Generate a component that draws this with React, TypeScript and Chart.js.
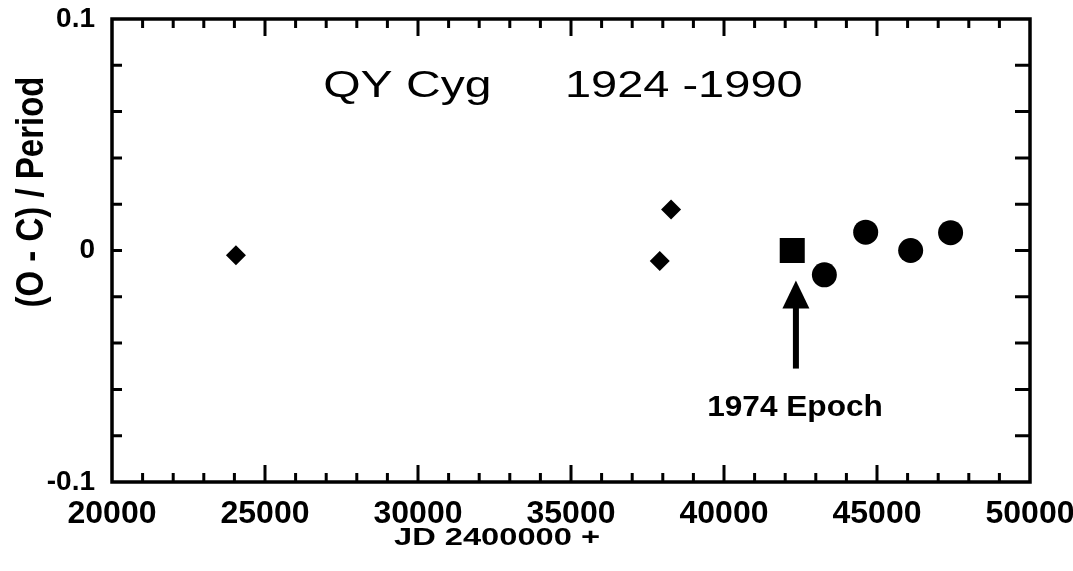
import React, { useEffect, useRef } from "react";
import { Chart, registerables } from "chart.js";

Chart.register(...registerables);

// ---- data ----
const diamondJD = [24050, 37900, 38270];
const diamondOC = [-0.002, -0.0045, 0.0177];
const squareJD = [42230];
const squareOC = [0];
const circleJD = [43280, 44630, 46100, 47405];
const circleOC = [-0.0105, 0.0079, 0, 0.0077];

const xMin = 20000;
const xMax = 50000;
const xMajorStep = 5000;
const xMinorStep = 1000;
const yMin = -0.1;
const yMax = 0.1;
const yStep = 0.02;
const yTickLabels = ["-0.1", "0", "0.1"];

const titleStar = "QY Cyg";
const titleYears = "1924 -1990";
const epochLabel = "1974 Epoch";
const xTitle = "JD 2400000 +";
const yTitle = "(O - C) / Period";

// annotation anchors (data coordinates)
const titleStarX = 26900;
const titleYearsX = 34800;
const titleBaselineY = 0.0663;
const epochX = 42350;
const epochTipY = -0.013;
const epochHeadY = -0.025;
const epochTailY = -0.051;
const epochTextX = 42320;
const epochTextBaselineY = -0.0715;

const FONT = "'Liberation Sans', Arial, Helvetica, sans-serif";

function fmtY(v: number): string {
  if (Math.abs(v) < 1e-9) return "0";
  return String(Math.round(v * 100) / 100);
}

function drawText(
  ctx: CanvasRenderingContext2D,
  text: string,
  x: number,
  y: number,
  font: string,
  sx: number,
  sy: number,
  align: CanvasTextAlign,
  rot = 0
) {
  ctx.save();
  ctx.translate(x, y);
  if (rot) ctx.rotate(rot);
  ctx.scale(sx, sy);
  ctx.font = font;
  ctx.textAlign = align;
  ctx.textBaseline = "alphabetic";
  ctx.fillStyle = "#000";
  ctx.fillText(text, 0, 0);
  ctx.restore();
}

const framePlugin = {
  id: "frame",
  afterDatasetsDraw(chart: any) {
    const ctx: CanvasRenderingContext2D = chart.ctx;
    const xs = chart.scales.x;
    const ys = chart.scales.y;
    // title inside the plot
    drawText(ctx, titleStar, xs.getPixelForValue(titleStarX), ys.getPixelForValue(titleBaselineY), `37px ${FONT}`, 1.3, 1, "left");
    drawText(ctx, titleYears, xs.getPixelForValue(titleYearsX), ys.getPixelForValue(titleBaselineY), `37px ${FONT}`, 1.27, 1, "left");

    // epoch arrow
    const ax = xs.getPixelForValue(epochX);
    const tip = ys.getPixelForValue(epochTipY);
    const head = ys.getPixelForValue(epochHeadY);
    const tail = ys.getPixelForValue(epochTailY);
    ctx.save();
    ctx.fillStyle = "#000";
    ctx.fillRect(ax - 3, head - 1, 6, tail - head + 1);
    ctx.beginPath();
    ctx.moveTo(ax, tip);
    ctx.lineTo(ax + 13.5, head);
    ctx.lineTo(ax - 13.5, head);
    ctx.closePath();
    ctx.fill();
    ctx.restore();
    drawText(ctx, epochLabel, xs.getPixelForValue(epochTextX), ys.getPixelForValue(epochTextBaselineY), `bold 29px ${FONT}`, 1.09, 1, "center");
  },
  afterDraw(chart: any) {
    const ctx: CanvasRenderingContext2D = chart.ctx;
    const { left, right, top, bottom } = chart.chartArea;
    const xs = chart.scales.x;
    const ys = chart.scales.y;
    ctx.save();
    ctx.strokeStyle = "#000";
    ctx.lineWidth = 3.5;
    ctx.strokeRect(left, top, right - left, bottom - top);
    ctx.lineWidth = 3;
    ctx.beginPath();
    for (let v = xMin + xMinorStep; v < xMax; v += xMinorStep) {
      const px = xs.getPixelForValue(v);
      const len = v % xMajorStep === 0 ? 17 : 9;
      ctx.moveTo(px, bottom);
      ctx.lineTo(px, bottom - len);
      ctx.moveTo(px, top);
      ctx.lineTo(px, top + len);
    }
    ys.ticks.forEach((t: any) => {
      const v = t.value;
      if (v <= yMin + 1e-9 || v >= yMax - 1e-9) return;
      const py = ys.getPixelForValue(v);
      ctx.moveTo(left, py);
      ctx.lineTo(left + 10, py);
      ctx.moveTo(right, py);
      ctx.lineTo(right - 15, py);
    });
    ctx.stroke();
    ctx.restore();

    // axis titles
    drawText(ctx, xTitle, left + 385, bottom + 63, `bold 24px ${FONT}`, 1.36, 1, "center");
    drawText(ctx, yTitle, 43, top + 173, `bold 33px ${FONT}`, 1, 1.2, "center", -Math.PI / 2);
  },
};

export default function App() {
  const ref = useRef<HTMLCanvasElement | null>(null);
  useEffect(() => {
    if (!ref.current) return;
    const chart = new Chart(ref.current, {
      type: "scatter",
      data: {
        datasets: [
          {
            label: "diamonds",
            data: diamondJD.map((x, i) => ({ x, y: diamondOC[i] })),
            pointStyle: "rectRot",
            pointRadius: 10,
            pointHoverRadius: 10,
            backgroundColor: "#000",
            borderColor: "#000",
            borderWidth: 0,
          },
          {
            label: "square",
            data: squareJD.map((x, i) => ({ x, y: squareOC[i] })),
            pointStyle: "rect",
            pointRadius: 17.7,
            pointHoverRadius: 17.7,
            backgroundColor: "#000",
            borderColor: "#000",
            borderWidth: 0,
          },
          {
            label: "circles",
            data: circleJD.map((x, i) => ({ x, y: circleOC[i] })),
            pointStyle: "circle",
            pointRadius: 12.5,
            pointHoverRadius: 12.5,
            backgroundColor: "#000",
            borderColor: "#000",
            borderWidth: 0,
          },
        ],
      },
      options: {
        animation: false,
        responsive: false,
        maintainAspectRatio: false,
        layout: { padding: { top: 19, right: 43, left: 0, bottom: 0 } },
        plugins: { legend: { display: false }, tooltip: { enabled: false }, title: { display: false } },
        scales: {
          x: {
            type: "linear",
            min: xMin,
            max: xMax,
            grid: { display: false, drawTicks: false },
            border: { display: false },
            afterFit: (s: any) => {
              s.height = 89;
              s.paddingLeft = 0;
              s.paddingRight = 0;
            },
            ticks: {
              stepSize: xMajorStep,
              autoSkip: false,
              maxRotation: 0,
              padding: 13,
              color: "#000",
              font: { family: FONT, size: 32, weight: "bold" },
              callback: (v: any) => String(v),
            },
          },
          y: {
            type: "linear",
            min: yMin,
            max: yMax,
            grid: { display: false, drawTicks: false },
            border: { display: false },
            afterFit: (s: any) => {
              s.width = 112;
              s.paddingTop = 0;
              s.paddingBottom = 0;
            },
            ticks: {
              stepSize: yStep,
              autoSkip: false,
              padding: 17,
              color: "#000",
              font: { family: FONT, size: 28, weight: "bold" },
              callback: (v: any) => {
                const s = fmtY(Number(v));
                return yTickLabels.includes(s) ? s : "";
              },
            },
          },
        },
      },
      plugins: [framePlugin],
    });
    return () => chart.destroy();
  }, []);
  return (
    <div style={{ position: "absolute", left: 0, top: 0, width: 1073, height: 571, background: "#fff" }}>
      <canvas ref={ref} width={1073} height={571} style={{ display: "block" }} />
    </div>
  );
}
